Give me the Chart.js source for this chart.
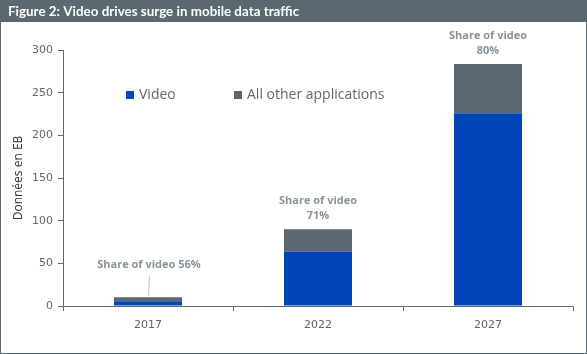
<!DOCTYPE html>
<html>
<head>
<meta charset="utf-8">
<script src="https://cdn.jsdelivr.net/npm/chart.js@4.4.1/dist/chart.umd.min.js"></script>
<style>
    html, body { margin: 0; padding: 0; background: #fff; }
    #wrap { width: 587px; height: 354px; position: relative; }
</style>
</head>
<body>
<div id="wrap"><canvas id="myChart" width="587" height="354"></canvas></div>
<script>
// data (EB)
var years = ['2017', '2022', '2027'];
var video = [5.7, 64, 226];
var other = [4.5, 26, 57.5];
var shareLabels = [['Share of video 56%'], ['Share of video', '71%'], ['Share of video', '80%']];
var yTicks = [0, 50, 100, 150, 200, 250, 300];

var titleText = 'Figure 2: Video drives surge in mobile data traffic';
var gray = '#5b6771';
var blue = '#0044b8';
var noteColor = '#87929b';

// frame + title bar
var framePlugin = {
    id: 'frame',
    beforeDraw: function (chart) {
        var c = chart.ctx;
        c.save();
        c.fillStyle = '#fff';
        c.fillRect(0, 0, chart.width, chart.height);
        c.fillStyle = gray;
        c.fillRect(0, 0, chart.width, 22);
        c.strokeStyle = gray;
        c.lineWidth = 1;
        c.strokeRect(0.5, 0.5, chart.width - 1, chart.height - 1);
        c.fillStyle = '#fff';
        c.font = 'bold 13.4px Lato';
        c.textBaseline = 'middle';
        c.fillText(titleText, 8, 12);
        c.restore();
    }
};

// legend inside the plot + share notes
var notesPlugin = {
    id: 'notes',
    afterDatasetsDraw: function (chart) {
        var c = chart.ctx;
        var xs = chart.scales.x, ys = chart.scales.y;
        c.save();
        // legend
        var lx = [126, 234];
        c.font = '14px "Open Sans"';
        c.textBaseline = 'middle';
        chart.data.datasets.forEach(function (ds, i) {
            c.fillStyle = ds.backgroundColor;
            c.fillRect(lx[i], 91, 8, 8);
            c.fillStyle = gray;
            c.fillText(ds.label, lx[i] + 13, 95);
        });
        // share of video notes
        c.font = 'bold 11px "Open Sans"';
        c.textAlign = 'center';
        c.fillStyle = noteColor;
        years.forEach(function (y, i) {
            var x = xs.getPixelForValue(i);
            var top = ys.getPixelForValue(video[i] + other[i]);
            var lines = shareLabels[i];
            if (lines.length === 1) {
                c.fillText(lines[0], x + 1, top - 32);
                c.strokeStyle = '#c4c4c4';
                c.lineWidth = 1;
                c.beginPath();
                c.moveTo(x + 1.5, top - 22);
                c.lineTo(x + 0.5, top - 1);
                c.stroke();
            } else {
                c.fillText(lines[0], x, top - 28);
                c.fillText(lines[1], x, top - 13);
            }
        });
        c.restore();
    }
};

var ctx = document.getElementById('myChart').getContext('2d');
var myChart = new Chart(ctx, {
    type: 'bar',
    data: {
        labels: years,
        datasets: [{
                label: 'Video',
                data: video,
                backgroundColor: blue,
                barPercentage: 0.4,
                categoryPercentage: 1
            }, {
                label: 'All other applications',
                data: other,
                backgroundColor: gray,
                barPercentage: 0.4,
                categoryPercentage: 1
            }]
    },
    plugins: [framePlugin, notesPlugin],
    options: {
        responsive: false,
        animation: false,
        layout: {padding: {top: 50, right: 14, left: 0, bottom: 0}},
        scales: {
            x: {
                stacked: true,
                offset: true,
                border: {color: gray, width: 1},
                grid: {offset: true, drawOnChartArea: false, tickLength: 5, color: gray},
                ticks: {color: gray, font: {family: 'DejaVu Sans', size: 11}, padding: 8},
                afterFit: function (s) { s.height = 48; }
            },
            y: {
                stacked: true,
                min: 0,
                max: 300,
                afterBuildTicks: function (s) {
                    s.ticks = yTicks.map(function (v) { return {value: v}; });
                },
                border: {color: gray, width: 1},
                grid: {drawOnChartArea: false, tickLength: 5, color: gray},
                ticks: {color: gray, font: {family: 'DejaVu Sans', size: 11}, padding: 5},
                title: {
                    display: true,
                    text: 'Données en EB',
                    color: '#333',
                    font: {family: 'Open Sans', size: 12},
                    padding: {top: 11, bottom: 0}
                },
                afterFit: function (s) { s.width = 63; }
            }
        },
        plugins: {
            legend: {display: false},
            tooltip: {enabled: false}
        }
    }
});
</script>
</body>
</html>
